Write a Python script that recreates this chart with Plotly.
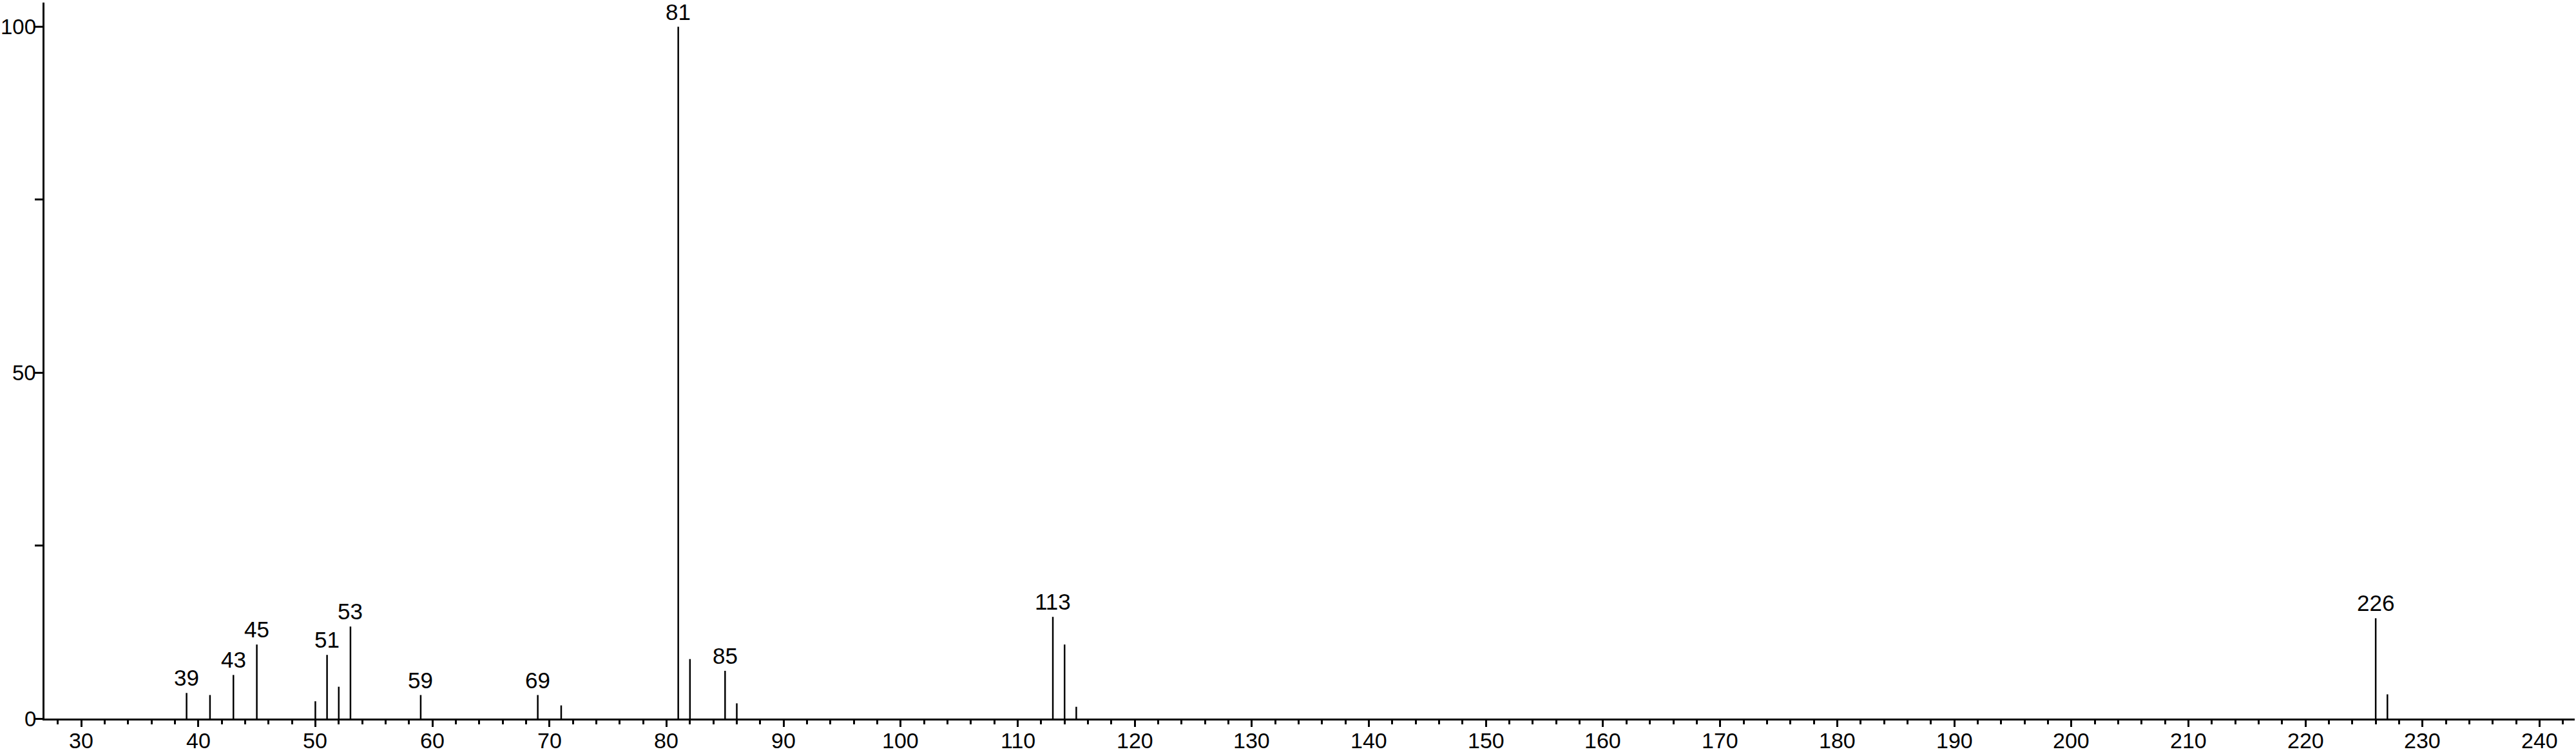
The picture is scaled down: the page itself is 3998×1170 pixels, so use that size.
import plotly.graph_objects as go

# m/z values and relative intensities
mz = [39, 41, 43, 45, 50, 51, 52, 53, 59, 69, 71, 81, 82, 85, 86, 113, 114, 115, 226, 227]
intensity = [3.7, 3.4, 6.3, 10.7, 2.5, 9.2, 4.6, 13.3, 3.4, 3.4, 1.9, 100.0, 8.6, 6.9, 2.2, 14.7, 10.7, 1.7, 14.5, 3.5]

# peaks that carry a text label
labeled_mz = [39, 43, 45, 51, 53, 59, 69, 81, 85, 113, 226]

x_tick_vals = list(range(30, 250, 10))
x_tick_text = [str(v) for v in x_tick_vals]
y_tick_vals = [0, 50, 100]
y_tick_text = [str(v) for v in y_tick_vals]

FONT = "Liberation Sans, Arial, sans-serif"
FS = 34

xs, ys = [], []
for m, v in zip(mz, intensity):
    xs += [m, m, None]
    ys += [0, v, None]

fig = go.Figure()
fig.add_trace(go.Scatter(x=xs, y=ys, mode="lines",
                         line=dict(color="black", width=2.5),
                         hoverinfo="skip", showlegend=False))

lookup = dict(zip(mz, intensity))
for m in labeled_mz:
    fig.add_annotation(x=m, y=lookup[m], text=str(m), showarrow=False,
                       xanchor="center", yanchor="bottom", yshift=2,
                       font=dict(family=FONT, size=FS + 1, color="black"))

# x tick labels placed as annotations just below the axis
for v, t in zip(x_tick_vals, x_tick_text):
    fig.add_annotation(x=v, xref="x", y=0, yref="paper", text=t, showarrow=False,
                       xanchor="center", yanchor="top", yshift=-14, borderpad=0,
                       font=dict(family=FONT, size=FS, color="black"))

# y tick labels placed as annotations left of the axis
for v, t in zip(y_tick_vals, y_tick_text):
    fig.add_annotation(x=0, xref="paper", y=v, yref="y", text=t, showarrow=False,
                       xanchor="right", yanchor="middle", xshift=-12, borderpad=0,
                       font=dict(family=FONT, size=33, color="black"))

fig.update_layout(
    width=3998, height=1170,
    margin=dict(l=69, r=2, t=4, b=55, autoexpand=False),
    paper_bgcolor="white", plot_bgcolor="white",
    font=dict(family=FONT, size=FS, color="black"),
    showlegend=False,
)
fig.update_xaxes(
    range=[26.86, 243.0], showgrid=False, zeroline=False, automargin=False,
    showline=True, linecolor="black", linewidth=3,
    tickmode="array", tickvals=x_tick_vals, showticklabels=False,
    ticks="outside", ticklen=10, tickwidth=3, tickcolor="black",
    minor=dict(dtick=2, tick0=0, ticks="outside", ticklen=6, tickwidth=3, tickcolor="black", showgrid=False),
)
fig.update_yaxes(
    range=[0, 103.5], showgrid=False, zeroline=False, automargin=False,
    showline=True, linecolor="black", linewidth=3,
    tickmode="array", tickvals=y_tick_vals, showticklabels=False,
    ticks="outside", ticklen=12, tickwidth=3, tickcolor="black",
    minor=dict(dtick=25, tick0=0, ticks="outside", ticklen=12, tickwidth=3, tickcolor="black", showgrid=False),
)

fig.write_html("out.html", config={"displayModeBar": False},
               post_script="document.body.style.margin='0';document.body.style.overflow='hidden';")
